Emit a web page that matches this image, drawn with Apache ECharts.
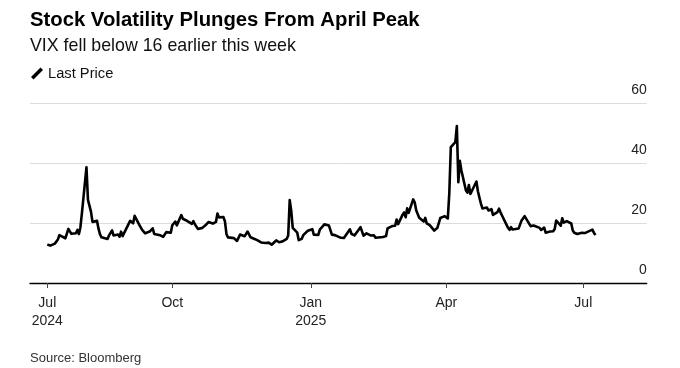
<!DOCTYPE html>
<html>
<head>
<meta charset="utf-8">
<script src="https://cdn.jsdelivr.net/npm/echarts@6/dist/echarts.min.js"></script>
<style>
html,body{margin:0;padding:0;background:#fff;}
#chart{width:680px;height:368px;}
</style>
</head>
<body>
<div id="chart"></div>
<script>
// ---- Data (VIX last price) ----
const dates = [
"2024-07-10","2024-07-11","2024-07-12","2024-07-15","2024-07-16","2024-07-17","2024-07-18","2024-07-19","2024-07-22","2024-07-23","2024-07-24","2024-07-25","2024-07-26","2024-07-29","2024-07-30","2024-07-31",
"2024-08-01","2024-08-02","2024-08-05","2024-08-06","2024-08-07","2024-08-08","2024-08-09","2024-08-12","2024-08-13","2024-08-14","2024-08-15","2024-08-16","2024-08-19","2024-08-20","2024-08-21","2024-08-22","2024-08-23","2024-08-26","2024-08-27","2024-08-28","2024-08-29","2024-08-30",
"2024-09-03","2024-09-04","2024-09-05","2024-09-06","2024-09-09","2024-09-10","2024-09-11","2024-09-12","2024-09-13","2024-09-16","2024-09-17","2024-09-18","2024-09-19","2024-09-20","2024-09-23","2024-09-24","2024-09-25","2024-09-26","2024-09-27","2024-09-30",
"2024-10-01","2024-10-02","2024-10-03","2024-10-04","2024-10-07","2024-10-08","2024-10-09","2024-10-10","2024-10-11","2024-10-14","2024-10-15","2024-10-16","2024-10-17","2024-10-18","2024-10-21","2024-10-22","2024-10-23","2024-10-24","2024-10-25","2024-10-28","2024-10-29","2024-10-30","2024-10-31",
"2024-11-01","2024-11-04","2024-11-05","2024-11-06","2024-11-07","2024-11-08","2024-11-11","2024-11-12","2024-11-13","2024-11-14","2024-11-15","2024-11-18","2024-11-19","2024-11-20","2024-11-21","2024-11-22","2024-11-25","2024-11-26","2024-11-27","2024-11-29",
"2024-12-02","2024-12-03","2024-12-04","2024-12-05","2024-12-06","2024-12-09","2024-12-10","2024-12-11","2024-12-12","2024-12-13","2024-12-16","2024-12-17","2024-12-18","2024-12-19","2024-12-20","2024-12-23","2024-12-24","2024-12-26","2024-12-27","2024-12-30","2024-12-31",
"2025-01-02","2025-01-03","2025-01-06","2025-01-07","2025-01-08","2025-01-10","2025-01-13","2025-01-14","2025-01-15","2025-01-16","2025-01-17","2025-01-21","2025-01-22","2025-01-23","2025-01-24","2025-01-27","2025-01-28","2025-01-29","2025-01-30","2025-01-31",
"2025-02-03","2025-02-04","2025-02-05","2025-02-06","2025-02-07","2025-02-10","2025-02-11","2025-02-12","2025-02-13","2025-02-14","2025-02-18","2025-02-19","2025-02-20","2025-02-21","2025-02-24","2025-02-25","2025-02-26","2025-02-27","2025-02-28",
"2025-03-03","2025-03-04","2025-03-05","2025-03-06","2025-03-07","2025-03-10","2025-03-11","2025-03-12","2025-03-13","2025-03-14","2025-03-17","2025-03-18","2025-03-19","2025-03-20","2025-03-21","2025-03-24","2025-03-25","2025-03-26","2025-03-27","2025-03-28","2025-03-31",
"2025-04-01","2025-04-02","2025-04-03","2025-04-04","2025-04-07","2025-04-08","2025-04-09","2025-04-10","2025-04-11","2025-04-14","2025-04-15","2025-04-16","2025-04-17","2025-04-21","2025-04-22","2025-04-23","2025-04-24","2025-04-25","2025-04-28","2025-04-29","2025-04-30",
"2025-05-01","2025-05-02","2025-05-05","2025-05-06","2025-05-07","2025-05-08","2025-05-09","2025-05-12","2025-05-13","2025-05-14","2025-05-15","2025-05-16","2025-05-19","2025-05-20","2025-05-21","2025-05-22","2025-05-23","2025-05-27","2025-05-28","2025-05-29","2025-05-30",
"2025-06-02","2025-06-03","2025-06-04","2025-06-05","2025-06-06","2025-06-09","2025-06-10","2025-06-11","2025-06-12","2025-06-13","2025-06-16","2025-06-17","2025-06-18","2025-06-20","2025-06-23","2025-06-24","2025-06-25","2025-06-26","2025-06-27","2025-06-30",
"2025-07-01","2025-07-02","2025-07-03","2025-07-07","2025-07-08","2025-07-09"
];
const vix = [
12.85,12.9,12.46,13.12,13.19,14.48,15.93,16.52,14.91,14.72,18.04,18.46,16.39,16.6,17.69,16.36,
18.59,23.39,38.57,27.71,27.85,23.79,20.37,20.71,18.12,16.19,15.23,14.8,14.65,15.88,16.27,17.55,15.86,16.15,15.43,17.11,15.65,15.0,
20.72,21.32,19.9,22.38,19.45,19.08,17.69,17.07,16.56,17.14,17.61,18.23,16.33,16.15,15.89,15.39,15.41,15.37,16.96,16.73,
19.26,18.9,20.49,19.21,22.64,21.42,20.86,20.93,20.46,19.7,20.64,19.58,19.11,18.03,18.37,18.2,19.24,19.08,20.33,19.8,19.34,20.35,23.16,
21.88,21.98,20.49,16.27,15.2,14.94,14.97,14.71,14.02,14.31,16.14,15.58,16.35,17.16,16.87,15.24,14.6,14.1,14.1,13.51,
13.34,13.3,13.45,13.54,12.77,14.19,14.18,13.58,13.92,13.81,14.69,15.87,27.62,24.09,18.36,16.78,14.27,14.73,15.95,17.4,17.35,
17.93,16.13,16.04,17.82,17.7,19.54,19.19,18.71,16.12,16.6,15.97,15.06,15.1,15.02,14.85,17.9,16.41,16.56,15.84,16.43,
18.62,17.21,15.77,15.5,16.54,15.81,16.02,15.89,15.1,14.77,15.35,15.27,15.66,18.21,18.98,19.43,19.1,21.13,19.63,
22.78,23.51,21.93,24.87,23.37,27.86,26.92,24.23,24.66,21.77,20.51,21.7,19.9,19.8,19.28,17.48,17.15,18.33,18.69,21.65,22.28,
21.77,21.51,30.02,45.31,46.98,52.33,33.62,40.72,37.56,30.89,30.12,32.64,29.65,33.82,30.57,28.45,26.47,24.84,25.15,24.17,24.7,
24.6,22.68,23.64,24.76,23.55,22.48,21.9,18.39,17.72,18.62,17.83,17.24,18.14,18.09,20.87,20.28,22.29,18.96,19.31,19.18,18.57,
18.36,17.69,17.61,18.48,16.77,17.16,16.95,17.26,18.02,20.82,19.11,21.6,20.14,20.62,19.83,17.48,16.76,16.59,16.32,16.73,
16.83,16.64,16.38,17.79,16.81,15.94
];
const tickDates = ["2024-07-10","2024-10-01","2025-01-01","2025-04-01","2025-07-01"];
const tickLabels = ["Jul\n2024","Oct","Jan\n2025","Apr","Jul"];
const yTicks = [0,20,40,60];

const FONT = '"Liberation Sans", Arial, sans-serif';
const DAY = 86400e3;
const ts = d => Date.UTC(+d.slice(0,4), +d.slice(5,7)-1, +d.slice(8,10));
const tickTs = tickDates.map(ts);
const labelFor = v => {
  for (let i = 0; i < tickTs.length; i++) if (Math.abs(tickTs[i]-v) < 1000) return tickLabels[i];
  return '';
};

const chart = echarts.init(document.getElementById('chart'), null, {renderer:'canvas'});
chart.setOption({
  animation:false,
  backgroundColor:'#fff',
  textStyle:{fontFamily:FONT},
  grid:{left:30, right:33.3, top:103, bottom:85, containLabel:false},
  title:[
    {text:'Stock Volatility Plunges From April Peak', left:25, top:5,
     textStyle:{fontFamily:FONT, fontSize:20.3, fontWeight:'bold', color:'#000'}},
    {text:'VIX fell below 16 earlier this week', left:25, top:32,
     textStyle:{fontFamily:FONT, fontSize:17.8, fontWeight:'normal', color:'#111'}},
    {text:'Source: Bloomberg', left:25, top:347,
     textStyle:{fontFamily:FONT, fontSize:13, fontWeight:'normal', color:'#333'}}
  ],
  legend:{
    left:26, top:61, itemWidth:12, itemHeight:12, itemGap:10,
    icon:'path://M0,9.5 L9.5,0 L12,2.5 L2.5,12 Z',
    textStyle:{fontFamily:FONT, fontSize:14.7, color:'#111'},
    data:[{name:'Last Price', itemStyle:{color:'#000'}}]
  },
  xAxis:{
    type:'value',
    min: ts("2024-06-28") + 0.5*DAY,
    max: ts("2025-08-12") + 0.1*DAY,
    axisLine:{show:true, onZero:false, lineStyle:{color:'#000', width:1.3}},
    axisTick:{show:true, length:5, lineStyle:{color:'#444', width:1}, customValues: tickTs},
    axisLabel:{customValues: tickTs, margin:11, fontFamily:FONT, fontSize:14, color:'#222', lineHeight:18,
      formatter: v => labelFor(v)},
    splitLine:{show:false}
  },
  yAxis:{
    type:'value', position:'right', min:0, max:60, interval:20,
    axisLine:{show:false}, axisTick:{show:false},
    axisLabel:{inside:true, margin:0, fontFamily:FONT, fontSize:14, color:'#222',
      verticalAlign:'bottom', lineHeight:14, padding:[0,0,6,0],
      formatter: v => yTicks.indexOf(v) >= 0 ? String(v) : ''},
    splitLine:{show:true, lineStyle:{color:'#dcdcdc', width:1}}
  },
  series:[{
    name:'Last Price', type:'line', showSymbol:false, symbol:'none',
    lineStyle:{color:'#000', width:2.6, join:'round'},
    itemStyle:{color:'#000'},
    data: dates.map((d,i)=>[ts(d), vix[i]])
  }]
});
</script>
</body>
</html>
